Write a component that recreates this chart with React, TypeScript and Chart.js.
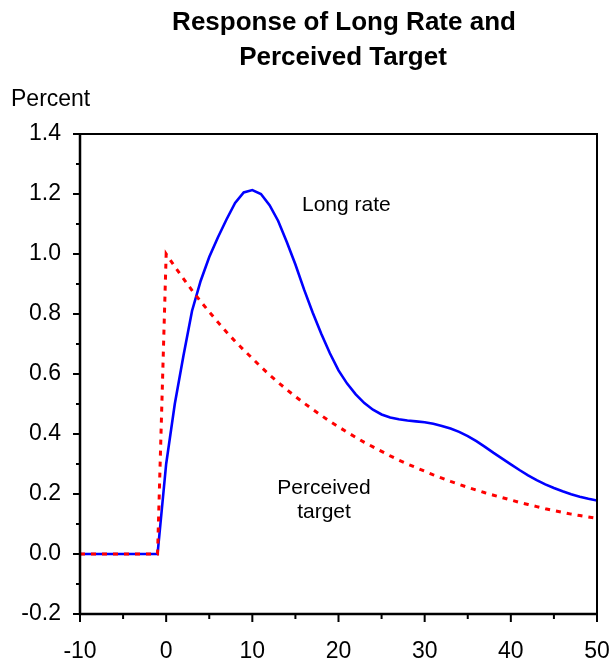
import React, { useEffect, useRef } from "react";
import { Chart, registerables } from "chart.js";

Chart.register(...registerables);

const periods = [
  -10, -9, -8, -7, -6, -5, -4, -3, -2, -1,
  0, 1, 2, 3, 4, 5, 6, 7, 8, 9,
  10, 11, 12, 13, 14, 15, 16, 17, 18, 19,
  20, 21, 22, 23, 24, 25, 26, 27, 28, 29,
  30, 31, 32, 33, 34, 35, 36, 37, 38, 39,
  40, 41, 42, 43, 44, 45, 46, 47, 48, 49, 50,
];

const longRate = [
  0, 0, 0, 0, 0, 0, 0, 0, 0, 0,
  0.30, 0.50, 0.66, 0.81, 0.91, 0.99, 1.055, 1.115, 1.17, 1.205,
  1.213, 1.20, 1.163, 1.11, 1.04, 0.965, 0.882, 0.805, 0.734, 0.669,
  0.612, 0.568, 0.532, 0.503, 0.481, 0.465, 0.455, 0.449, 0.445, 0.442,
  0.439, 0.434, 0.427, 0.418, 0.407, 0.393, 0.376, 0.357, 0.337, 0.318,
  0.299, 0.280, 0.262, 0.246, 0.232, 0.220, 0.209, 0.199, 0.191, 0.184, 0.178,
];

const perceivedTarget = [
  0, 0, 0, 0, 0, 0, 0, 0, 0, 0,
  1.0, 0.958, 0.918, 0.879, 0.842, 0.807, 0.773, 0.740, 0.709, 0.680,
  0.652, 0.624, 0.597, 0.572, 0.548, 0.525, 0.503, 0.482, 0.462, 0.442,
  0.424, 0.406, 0.389, 0.372, 0.357, 0.342, 0.327, 0.313, 0.300, 0.288,
  0.276, 0.264, 0.253, 0.242, 0.232, 0.222, 0.213, 0.204, 0.196, 0.188,
  0.180, 0.172, 0.165, 0.158, 0.151, 0.145, 0.139, 0.133, 0.128, 0.123, 0.119,
];

const xTicks = [-10, 0, 10, 20, 30, 40, 50];
const xMinorTicks = [-5, 5, 15, 25, 35, 45];
const yTicks = [-0.2, 0, 0.2, 0.4, 0.6, 0.8, 1.0, 1.2, 1.4];
const yMinorTicks = [-0.1, 0.1, 0.3, 0.5, 0.7, 0.9, 1.1, 1.3];

const titleLines = ["Response of Long Rate and", "Perceived Target"];
const yUnitLabel = "Percent";
const longRateLabel = "Long rate";
const targetLabelLines = ["Perceived", "target"];

const FONT = "'Liberation Sans', Arial, Helvetica, sans-serif";

const decorPlugin = {
  id: "decor",
  afterDraw(chart: any) {
    const { ctx, chartArea, scales } = chart;
    const { left, right, top, bottom } = chartArea;
    ctx.save();
    ctx.strokeStyle = "#000";
    ctx.lineCap = "butt";
    // frame
    ctx.lineWidth = 2;
    ctx.beginPath();
    ctx.moveTo(left, top);
    ctx.lineTo(right, top);
    ctx.lineTo(right, bottom);
    ctx.stroke();
    ctx.lineWidth = 2.5;
    ctx.beginPath();
    ctx.moveTo(left, top - 1);
    ctx.lineTo(left, bottom);
    ctx.lineTo(right + 1, bottom);
    ctx.stroke();
    // ticks
    ctx.lineWidth = 2;
    ctx.beginPath();
    yTicks.forEach((v) => {
      const y = scales.y.getPixelForValue(v);
      ctx.moveTo(left - 7, y);
      ctx.lineTo(left, y);
    });
    yMinorTicks.forEach((v) => {
      const y = scales.y.getPixelForValue(v);
      ctx.moveTo(left - 4, y);
      ctx.lineTo(left, y);
    });
    xTicks.forEach((v) => {
      const x = scales.x.getPixelForValue(v);
      ctx.moveTo(x, bottom);
      ctx.lineTo(x, bottom + 8);
    });
    xMinorTicks.forEach((v) => {
      const x = scales.x.getPixelForValue(v);
      ctx.moveTo(x, bottom);
      ctx.lineTo(x, bottom + 5);
    });
    ctx.stroke();

    // texts
    ctx.fillStyle = "#000";
    ctx.textBaseline = "alphabetic";
    ctx.font = `bold 26px ${FONT}`;
    ctx.textAlign = "center";
    ctx.fillText(titleLines[0], 344, 30);
    ctx.fillText(titleLines[1], 343, 65);

    ctx.font = `23px ${FONT}`;
    ctx.textAlign = "left";
    ctx.fillText(yUnitLabel, 11, 106);

    ctx.font = `21px ${FONT}`;
    ctx.textAlign = "left";
    ctx.fillText(longRateLabel, 302, 211);
    ctx.textAlign = "center";
    ctx.fillText(targetLabelLines[0], 324, 494);
    ctx.fillText(targetLabelLines[1], 324, 518);
    ctx.restore();
  },
};

export default function App() {
  const ref = useRef<HTMLCanvasElement | null>(null);

  useEffect(() => {
    if (!ref.current) return;
    const chart = new Chart(ref.current, {
      type: "line",
      data: {
        datasets: [
          {
            label: "Perceived target",
            data: periods.map((p, i) => ({ x: p, y: perceivedTarget[i] })),
            borderColor: "#FF0000",
            borderWidth: 3,
            borderDash: [5, 6],
            pointRadius: 0,
            tension: 0,
            fill: false,
          },
          {
            label: "Long rate",
            data: periods.map((p, i) => ({ x: p, y: longRate[i] })),
            borderColor: "#0000FF",
            borderWidth: 2.6,
            pointRadius: 0,
            tension: 0,
            fill: false,
          },
        ],
      },
      options: {
        animation: false,
        responsive: false,
        devicePixelRatio: 1,
        layout: { padding: { top: 134, right: 16, left: 0, bottom: 0 } },
        plugins: {
          legend: { display: false },
          title: { display: false },
          tooltip: { enabled: false },
        },
        scales: {
          x: {
            type: "linear",
            min: -10,
            max: 50,
            afterBuildTicks: (scale: any) => {
              scale.ticks = xTicks.map((v) => ({ value: v }));
            },
            afterFit: (scale: any) => {
              scale.height = 50;
              scale.paddingLeft = 0;
              scale.paddingRight = 0;
            },
            grid: { display: false, drawTicks: false },
            border: { display: false },
            ticks: {
              color: "#000",
              font: { family: FONT, size: 23 },
              padding: 24,
              maxRotation: 0,
              autoSkip: false,
              callback: (v: any) => String(v),
            },
          },
          y: {
            type: "linear",
            min: -0.2,
            max: 1.4,
            afterBuildTicks: (scale: any) => {
              scale.ticks = yTicks.map((v) => ({ value: v }));
            },
            afterFit: (scale: any) => {
              scale.width = 80;
              scale.paddingTop = 0;
              scale.paddingBottom = 0;
            },
            grid: { display: false, drawTicks: false },
            border: { display: false },
            ticks: {
              color: "#000",
              font: { family: FONT, size: 23 },
              padding: 19,
              autoSkip: false,
              callback: (v: any) => Number(v).toFixed(1),
            },
          },
        },
      },
      plugins: [decorPlugin],
    });
    return () => chart.destroy();
  }, []);

  return (
    <div style={{ position: "fixed", left: 0, top: 0, width: 613, height: 664, background: "#fff" }}>
      <canvas ref={ref} width={613} height={664} style={{ display: "block", width: 613, height: 664 }} />
    </div>
  );
}
